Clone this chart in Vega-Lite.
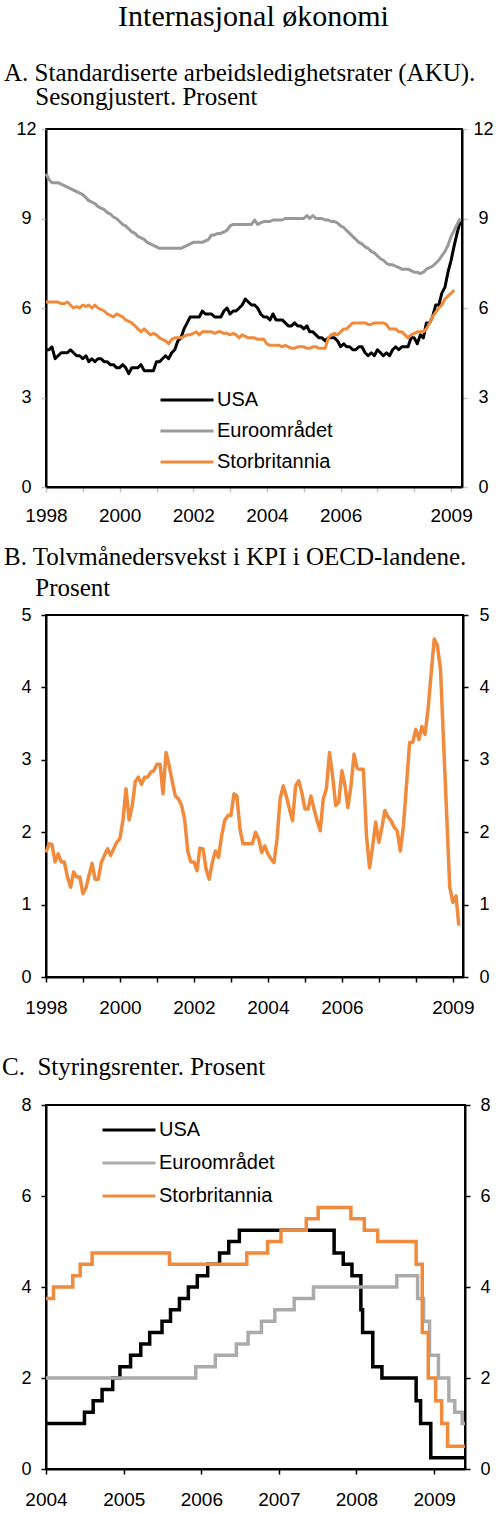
{
  "$schema": "https://vega.github.io/schema/vega-lite/v6.json",
  "background": "white",
  "padding": {"left": 1, "top": 2, "right": 2, "bottom": 2},
  "title": {
    "text": "Internasjonal økonomi",
    "anchor": "middle",
    "font": "Liberation Serif",
    "fontSize": 30,
    "fontWeight": "normal",
    "color": "black",
    "dx": 6,
    "offset": 28
  },
  "config": {
    "font": "Liberation Sans",
    "view": {"stroke": "black", "strokeWidth": 2},
    "axis": {
      "domainColor": "black",
      "domainWidth": 2,
      "tickColor": "black",
      "tickWidth": 1.5,
      "tickSize": 5,
      "grid": false,
      "labelFont": "Liberation Sans",
      "labelFontSize": 18,
      "labelColor": "black",
      "labelFlush": false,
      "labelOverlap": false,
      "labelBound": false
    },
    "axisY": {"labelAlign": "center", "labelBaseline": "middle", "labelPadding": 15},
    "legend": {
      "orient": "none",
      "labelFont": "Liberation Sans",
      "labelFontSize": 20,
      "labelColor": "black",
      "symbolType": "M-5.3,0H5.3",
      "symbolSize": 100,
      "symbolStrokeWidth": 3,
      "padding": 0,
      "labelOffset": 20,
      "rowPadding": 11
    },
    "title": {"font": "Liberation Serif", "fontWeight": "normal", "color": "black"}
  },
  "spacing": 128,
  "bounds": "flush",
  "resolve": {"scale": {"color": "independent"}, "legend": {"color": "independent"}},
  "datasets": {
    "ledighet": [
      {"d":"1998-01","s":"USA","v":4.6},{"d":"1998-02","s":"USA","v":4.6},{"d":"1998-03","s":"USA","v":4.7},{"d":"1998-04","s":"USA","v":4.3},{"d":"1998-05","s":"USA","v":4.4},{"d":"1998-06","s":"USA","v":4.5},{"d":"1998-07","s":"USA","v":4.5},{"d":"1998-08","s":"USA","v":4.5},{"d":"1998-09","s":"USA","v":4.6},{"d":"1998-10","s":"USA","v":4.5},{"d":"1998-11","s":"USA","v":4.4},{"d":"1998-12","s":"USA","v":4.4},
      {"d":"1999-01","s":"USA","v":4.3},{"d":"1999-02","s":"USA","v":4.4},{"d":"1999-03","s":"USA","v":4.2},{"d":"1999-04","s":"USA","v":4.3},{"d":"1999-05","s":"USA","v":4.2},{"d":"1999-06","s":"USA","v":4.3},{"d":"1999-07","s":"USA","v":4.3},{"d":"1999-08","s":"USA","v":4.2},{"d":"1999-09","s":"USA","v":4.2},{"d":"1999-10","s":"USA","v":4.1},{"d":"1999-11","s":"USA","v":4.1},{"d":"1999-12","s":"USA","v":4.0},
      {"d":"2000-01","s":"USA","v":4.0},{"d":"2000-02","s":"USA","v":4.1},{"d":"2000-03","s":"USA","v":4.0},{"d":"2000-04","s":"USA","v":3.8},{"d":"2000-05","s":"USA","v":4.0},{"d":"2000-06","s":"USA","v":4.0},{"d":"2000-07","s":"USA","v":4.0},{"d":"2000-08","s":"USA","v":4.1},{"d":"2000-09","s":"USA","v":3.9},{"d":"2000-10","s":"USA","v":3.9},{"d":"2000-11","s":"USA","v":3.9},{"d":"2000-12","s":"USA","v":3.9},
      {"d":"2001-01","s":"USA","v":4.2},{"d":"2001-02","s":"USA","v":4.2},{"d":"2001-03","s":"USA","v":4.3},{"d":"2001-04","s":"USA","v":4.4},{"d":"2001-05","s":"USA","v":4.3},{"d":"2001-06","s":"USA","v":4.5},{"d":"2001-07","s":"USA","v":4.6},{"d":"2001-08","s":"USA","v":4.9},{"d":"2001-09","s":"USA","v":5.0},{"d":"2001-10","s":"USA","v":5.3},{"d":"2001-11","s":"USA","v":5.5},{"d":"2001-12","s":"USA","v":5.7},
      {"d":"2002-01","s":"USA","v":5.7},{"d":"2002-02","s":"USA","v":5.7},{"d":"2002-03","s":"USA","v":5.7},{"d":"2002-04","s":"USA","v":5.9},{"d":"2002-05","s":"USA","v":5.8},{"d":"2002-06","s":"USA","v":5.8},{"d":"2002-07","s":"USA","v":5.8},{"d":"2002-08","s":"USA","v":5.7},{"d":"2002-09","s":"USA","v":5.7},{"d":"2002-10","s":"USA","v":5.7},{"d":"2002-11","s":"USA","v":5.9},{"d":"2002-12","s":"USA","v":6.0},
      {"d":"2003-01","s":"USA","v":5.8},{"d":"2003-02","s":"USA","v":5.9},{"d":"2003-03","s":"USA","v":5.9},{"d":"2003-04","s":"USA","v":6.0},{"d":"2003-05","s":"USA","v":6.1},{"d":"2003-06","s":"USA","v":6.3},{"d":"2003-07","s":"USA","v":6.2},{"d":"2003-08","s":"USA","v":6.1},{"d":"2003-09","s":"USA","v":6.1},{"d":"2003-10","s":"USA","v":6.0},{"d":"2003-11","s":"USA","v":5.8},{"d":"2003-12","s":"USA","v":5.7},
      {"d":"2004-01","s":"USA","v":5.7},{"d":"2004-02","s":"USA","v":5.6},{"d":"2004-03","s":"USA","v":5.8},{"d":"2004-04","s":"USA","v":5.6},{"d":"2004-05","s":"USA","v":5.6},{"d":"2004-06","s":"USA","v":5.6},{"d":"2004-07","s":"USA","v":5.5},{"d":"2004-08","s":"USA","v":5.4},{"d":"2004-09","s":"USA","v":5.4},{"d":"2004-10","s":"USA","v":5.5},{"d":"2004-11","s":"USA","v":5.4},{"d":"2004-12","s":"USA","v":5.4},
      {"d":"2005-01","s":"USA","v":5.3},{"d":"2005-02","s":"USA","v":5.4},{"d":"2005-03","s":"USA","v":5.2},{"d":"2005-04","s":"USA","v":5.2},{"d":"2005-05","s":"USA","v":5.1},{"d":"2005-06","s":"USA","v":5.0},{"d":"2005-07","s":"USA","v":5.0},{"d":"2005-08","s":"USA","v":4.9},{"d":"2005-09","s":"USA","v":5.0},{"d":"2005-10","s":"USA","v":5.0},{"d":"2005-11","s":"USA","v":5.0},{"d":"2005-12","s":"USA","v":4.9},
      {"d":"2006-01","s":"USA","v":4.7},{"d":"2006-02","s":"USA","v":4.8},{"d":"2006-03","s":"USA","v":4.7},{"d":"2006-04","s":"USA","v":4.7},{"d":"2006-05","s":"USA","v":4.6},{"d":"2006-06","s":"USA","v":4.6},{"d":"2006-07","s":"USA","v":4.7},{"d":"2006-08","s":"USA","v":4.7},{"d":"2006-09","s":"USA","v":4.5},{"d":"2006-10","s":"USA","v":4.4},{"d":"2006-11","s":"USA","v":4.5},{"d":"2006-12","s":"USA","v":4.4},
      {"d":"2007-01","s":"USA","v":4.6},{"d":"2007-02","s":"USA","v":4.5},{"d":"2007-03","s":"USA","v":4.4},{"d":"2007-04","s":"USA","v":4.5},{"d":"2007-05","s":"USA","v":4.4},{"d":"2007-06","s":"USA","v":4.6},{"d":"2007-07","s":"USA","v":4.7},{"d":"2007-08","s":"USA","v":4.6},{"d":"2007-09","s":"USA","v":4.7},{"d":"2007-10","s":"USA","v":4.7},{"d":"2007-11","s":"USA","v":4.7},{"d":"2007-12","s":"USA","v":5.0},
      {"d":"2008-01","s":"USA","v":5.0},{"d":"2008-02","s":"USA","v":4.8},{"d":"2008-03","s":"USA","v":5.1},{"d":"2008-04","s":"USA","v":5.0},{"d":"2008-05","s":"USA","v":5.5},{"d":"2008-06","s":"USA","v":5.5},{"d":"2008-07","s":"USA","v":5.7},{"d":"2008-08","s":"USA","v":6.1},{"d":"2008-09","s":"USA","v":6.1},{"d":"2008-10","s":"USA","v":6.5},{"d":"2008-11","s":"USA","v":6.7},{"d":"2008-12","s":"USA","v":7.2},
      {"d":"2009-01","s":"USA","v":7.6},{"d":"2009-02","s":"USA","v":8.1},{"d":"2009-03","s":"USA","v":8.5},{"d":"2009-04","s":"USA","v":8.9},

      {"d":"1998-01","s":"Euroområdet","v":10.5},{"d":"1998-02","s":"Euroområdet","v":10.3},{"d":"1998-03","s":"Euroområdet","v":10.2},{"d":"1998-04","s":"Euroområdet","v":10.2},{"d":"1998-05","s":"Euroområdet","v":10.2},{"d":"1998-06","s":"Euroområdet","v":10.15},{"d":"1998-07","s":"Euroområdet","v":10.1},{"d":"1998-08","s":"Euroområdet","v":10.05},{"d":"1998-09","s":"Euroområdet","v":10.0},{"d":"1998-10","s":"Euroområdet","v":9.95},{"d":"1998-11","s":"Euroområdet","v":9.9},{"d":"1998-12","s":"Euroområdet","v":9.85},
      {"d":"1999-01","s":"Euroområdet","v":9.8},{"d":"1999-02","s":"Euroområdet","v":9.7},{"d":"1999-03","s":"Euroområdet","v":9.6},{"d":"1999-04","s":"Euroområdet","v":9.55},{"d":"1999-05","s":"Euroområdet","v":9.5},{"d":"1999-06","s":"Euroområdet","v":9.4},{"d":"1999-07","s":"Euroområdet","v":9.35},{"d":"1999-08","s":"Euroområdet","v":9.3},{"d":"1999-09","s":"Euroområdet","v":9.2},{"d":"1999-10","s":"Euroområdet","v":9.15},{"d":"1999-11","s":"Euroområdet","v":9.05},{"d":"1999-12","s":"Euroområdet","v":9.0},
      {"d":"2000-01","s":"Euroområdet","v":8.9},{"d":"2000-02","s":"Euroområdet","v":8.8},{"d":"2000-03","s":"Euroområdet","v":8.75},{"d":"2000-04","s":"Euroområdet","v":8.65},{"d":"2000-05","s":"Euroområdet","v":8.55},{"d":"2000-06","s":"Euroområdet","v":8.5},{"d":"2000-07","s":"Euroområdet","v":8.4},{"d":"2000-08","s":"Euroområdet","v":8.35},{"d":"2000-09","s":"Euroområdet","v":8.3},{"d":"2000-10","s":"Euroområdet","v":8.2},{"d":"2000-11","s":"Euroområdet","v":8.15},{"d":"2000-12","s":"Euroområdet","v":8.1},
      {"d":"2001-01","s":"Euroområdet","v":8.05},{"d":"2001-02","s":"Euroområdet","v":8.0},{"d":"2001-03","s":"Euroområdet","v":8.0},{"d":"2001-04","s":"Euroområdet","v":8.0},{"d":"2001-05","s":"Euroområdet","v":8.0},{"d":"2001-06","s":"Euroområdet","v":8.0},{"d":"2001-07","s":"Euroområdet","v":8.0},{"d":"2001-08","s":"Euroområdet","v":8.0},{"d":"2001-09","s":"Euroområdet","v":8.0},{"d":"2001-10","s":"Euroområdet","v":8.05},{"d":"2001-11","s":"Euroområdet","v":8.1},{"d":"2001-12","s":"Euroområdet","v":8.15},
      {"d":"2002-01","s":"Euroområdet","v":8.2},{"d":"2002-02","s":"Euroområdet","v":8.2},{"d":"2002-03","s":"Euroområdet","v":8.2},{"d":"2002-04","s":"Euroområdet","v":8.2},{"d":"2002-05","s":"Euroområdet","v":8.25},{"d":"2002-06","s":"Euroområdet","v":8.3},{"d":"2002-07","s":"Euroområdet","v":8.45},{"d":"2002-08","s":"Euroområdet","v":8.45},{"d":"2002-09","s":"Euroområdet","v":8.5},{"d":"2002-10","s":"Euroområdet","v":8.5},{"d":"2002-11","s":"Euroområdet","v":8.55},{"d":"2002-12","s":"Euroområdet","v":8.6},
      {"d":"2003-01","s":"Euroområdet","v":8.75},{"d":"2003-02","s":"Euroområdet","v":8.8},{"d":"2003-03","s":"Euroområdet","v":8.8},{"d":"2003-04","s":"Euroområdet","v":8.8},{"d":"2003-05","s":"Euroområdet","v":8.8},{"d":"2003-06","s":"Euroområdet","v":8.8},{"d":"2003-07","s":"Euroområdet","v":8.8},{"d":"2003-08","s":"Euroområdet","v":8.8},{"d":"2003-09","s":"Euroområdet","v":8.95},{"d":"2003-10","s":"Euroområdet","v":8.8},{"d":"2003-11","s":"Euroområdet","v":8.85},{"d":"2003-12","s":"Euroområdet","v":8.9},
      {"d":"2004-01","s":"Euroområdet","v":8.9},{"d":"2004-02","s":"Euroområdet","v":8.9},{"d":"2004-03","s":"Euroområdet","v":8.95},{"d":"2004-04","s":"Euroområdet","v":8.95},{"d":"2004-05","s":"Euroområdet","v":8.95},{"d":"2004-06","s":"Euroområdet","v":8.95},{"d":"2004-07","s":"Euroområdet","v":9.0},{"d":"2004-08","s":"Euroområdet","v":9.0},{"d":"2004-09","s":"Euroområdet","v":9.0},{"d":"2004-10","s":"Euroområdet","v":9.0},{"d":"2004-11","s":"Euroområdet","v":9.0},{"d":"2004-12","s":"Euroområdet","v":9.0},
      {"d":"2005-01","s":"Euroområdet","v":9.0},{"d":"2005-02","s":"Euroområdet","v":9.1},{"d":"2005-03","s":"Euroområdet","v":9.0},{"d":"2005-04","s":"Euroområdet","v":9.1},{"d":"2005-05","s":"Euroområdet","v":9.0},{"d":"2005-06","s":"Euroområdet","v":9.0},{"d":"2005-07","s":"Euroområdet","v":9.0},{"d":"2005-08","s":"Euroområdet","v":8.95},{"d":"2005-09","s":"Euroområdet","v":8.95},{"d":"2005-10","s":"Euroområdet","v":8.9},{"d":"2005-11","s":"Euroområdet","v":8.9},{"d":"2005-12","s":"Euroområdet","v":8.85},
      {"d":"2006-01","s":"Euroområdet","v":8.75},{"d":"2006-02","s":"Euroområdet","v":8.7},{"d":"2006-03","s":"Euroområdet","v":8.6},{"d":"2006-04","s":"Euroområdet","v":8.5},{"d":"2006-05","s":"Euroområdet","v":8.4},{"d":"2006-06","s":"Euroområdet","v":8.3},{"d":"2006-07","s":"Euroområdet","v":8.2},{"d":"2006-08","s":"Euroområdet","v":8.15},{"d":"2006-09","s":"Euroområdet","v":8.05},{"d":"2006-10","s":"Euroområdet","v":8.0},{"d":"2006-11","s":"Euroområdet","v":7.9},{"d":"2006-12","s":"Euroområdet","v":7.85},
      {"d":"2007-01","s":"Euroområdet","v":7.75},{"d":"2007-02","s":"Euroområdet","v":7.65},{"d":"2007-03","s":"Euroområdet","v":7.6},{"d":"2007-04","s":"Euroområdet","v":7.5},{"d":"2007-05","s":"Euroområdet","v":7.45},{"d":"2007-06","s":"Euroområdet","v":7.45},{"d":"2007-07","s":"Euroområdet","v":7.4},{"d":"2007-08","s":"Euroområdet","v":7.35},{"d":"2007-09","s":"Euroområdet","v":7.3},{"d":"2007-10","s":"Euroområdet","v":7.3},{"d":"2007-11","s":"Euroområdet","v":7.3},{"d":"2007-12","s":"Euroområdet","v":7.25},
      {"d":"2008-01","s":"Euroområdet","v":7.2},{"d":"2008-02","s":"Euroområdet","v":7.2},{"d":"2008-03","s":"Euroområdet","v":7.15},{"d":"2008-04","s":"Euroområdet","v":7.2},{"d":"2008-05","s":"Euroområdet","v":7.3},{"d":"2008-06","s":"Euroområdet","v":7.35},{"d":"2008-07","s":"Euroområdet","v":7.4},{"d":"2008-08","s":"Euroområdet","v":7.5},{"d":"2008-09","s":"Euroområdet","v":7.6},{"d":"2008-10","s":"Euroområdet","v":7.75},{"d":"2008-11","s":"Euroområdet","v":7.9},{"d":"2008-12","s":"Euroområdet","v":8.1},
      {"d":"2009-01","s":"Euroområdet","v":8.4},{"d":"2009-02","s":"Euroområdet","v":8.6},{"d":"2009-03","s":"Euroområdet","v":8.8},{"d":"2009-04","s":"Euroområdet","v":9.0},

      {"d":"1998-01","s":"Storbritannia","v":6.2},{"d":"1998-02","s":"Storbritannia","v":6.2},{"d":"1998-03","s":"Storbritannia","v":6.2},{"d":"1998-04","s":"Storbritannia","v":6.2},{"d":"1998-05","s":"Storbritannia","v":6.2},{"d":"1998-06","s":"Storbritannia","v":6.15},{"d":"1998-07","s":"Storbritannia","v":6.15},{"d":"1998-08","s":"Storbritannia","v":6.2},{"d":"1998-09","s":"Storbritannia","v":6.1},{"d":"1998-10","s":"Storbritannia","v":6.0},{"d":"1998-11","s":"Storbritannia","v":6.05},{"d":"1998-12","s":"Storbritannia","v":6.0},
      {"d":"1999-01","s":"Storbritannia","v":6.1},{"d":"1999-02","s":"Storbritannia","v":6.05},{"d":"1999-03","s":"Storbritannia","v":6.1},{"d":"1999-04","s":"Storbritannia","v":6.0},{"d":"1999-05","s":"Storbritannia","v":6.1},{"d":"1999-06","s":"Storbritannia","v":6.0},{"d":"1999-07","s":"Storbritannia","v":5.95},{"d":"1999-08","s":"Storbritannia","v":5.9},{"d":"1999-09","s":"Storbritannia","v":5.8},{"d":"1999-10","s":"Storbritannia","v":5.75},{"d":"1999-11","s":"Storbritannia","v":5.7},{"d":"1999-12","s":"Storbritannia","v":5.8},
      {"d":"2000-01","s":"Storbritannia","v":5.75},{"d":"2000-02","s":"Storbritannia","v":5.7},{"d":"2000-03","s":"Storbritannia","v":5.6},{"d":"2000-04","s":"Storbritannia","v":5.55},{"d":"2000-05","s":"Storbritannia","v":5.5},{"d":"2000-06","s":"Storbritannia","v":5.4},{"d":"2000-07","s":"Storbritannia","v":5.3},{"d":"2000-08","s":"Storbritannia","v":5.2},{"d":"2000-09","s":"Storbritannia","v":5.3},{"d":"2000-10","s":"Storbritannia","v":5.2},{"d":"2000-11","s":"Storbritannia","v":5.1},{"d":"2000-12","s":"Storbritannia","v":5.15},
      {"d":"2001-01","s":"Storbritannia","v":5.1},{"d":"2001-02","s":"Storbritannia","v":5.0},{"d":"2001-03","s":"Storbritannia","v":4.95},{"d":"2001-04","s":"Storbritannia","v":4.9},{"d":"2001-05","s":"Storbritannia","v":4.8},{"d":"2001-06","s":"Storbritannia","v":4.95},{"d":"2001-07","s":"Storbritannia","v":5.0},{"d":"2001-08","s":"Storbritannia","v":5.0},{"d":"2001-09","s":"Storbritannia","v":5.0},{"d":"2001-10","s":"Storbritannia","v":5.05},{"d":"2001-11","s":"Storbritannia","v":5.1},{"d":"2001-12","s":"Storbritannia","v":5.1},
      {"d":"2002-01","s":"Storbritannia","v":5.15},{"d":"2002-02","s":"Storbritannia","v":5.2},{"d":"2002-03","s":"Storbritannia","v":5.1},{"d":"2002-04","s":"Storbritannia","v":5.2},{"d":"2002-05","s":"Storbritannia","v":5.2},{"d":"2002-06","s":"Storbritannia","v":5.2},{"d":"2002-07","s":"Storbritannia","v":5.2},{"d":"2002-08","s":"Storbritannia","v":5.15},{"d":"2002-09","s":"Storbritannia","v":5.2},{"d":"2002-10","s":"Storbritannia","v":5.2},{"d":"2002-11","s":"Storbritannia","v":5.15},{"d":"2002-12","s":"Storbritannia","v":5.15},
      {"d":"2003-01","s":"Storbritannia","v":5.1},{"d":"2003-02","s":"Storbritannia","v":5.15},{"d":"2003-03","s":"Storbritannia","v":5.1},{"d":"2003-04","s":"Storbritannia","v":5.0},{"d":"2003-05","s":"Storbritannia","v":5.1},{"d":"2003-06","s":"Storbritannia","v":5.05},{"d":"2003-07","s":"Storbritannia","v":5.0},{"d":"2003-08","s":"Storbritannia","v":5.0},{"d":"2003-09","s":"Storbritannia","v":5.0},{"d":"2003-10","s":"Storbritannia","v":4.95},{"d":"2003-11","s":"Storbritannia","v":4.95},{"d":"2003-12","s":"Storbritannia","v":4.95},
      {"d":"2004-01","s":"Storbritannia","v":4.8},{"d":"2004-02","s":"Storbritannia","v":4.75},{"d":"2004-03","s":"Storbritannia","v":4.75},{"d":"2004-04","s":"Storbritannia","v":4.75},{"d":"2004-05","s":"Storbritannia","v":4.75},{"d":"2004-06","s":"Storbritannia","v":4.7},{"d":"2004-07","s":"Storbritannia","v":4.75},{"d":"2004-08","s":"Storbritannia","v":4.7},{"d":"2004-09","s":"Storbritannia","v":4.65},{"d":"2004-10","s":"Storbritannia","v":4.65},{"d":"2004-11","s":"Storbritannia","v":4.7},{"d":"2004-12","s":"Storbritannia","v":4.7},
      {"d":"2005-01","s":"Storbritannia","v":4.7},{"d":"2005-02","s":"Storbritannia","v":4.65},{"d":"2005-03","s":"Storbritannia","v":4.65},{"d":"2005-04","s":"Storbritannia","v":4.7},{"d":"2005-05","s":"Storbritannia","v":4.7},{"d":"2005-06","s":"Storbritannia","v":4.65},{"d":"2005-07","s":"Storbritannia","v":4.65},{"d":"2005-08","s":"Storbritannia","v":4.65},{"d":"2005-09","s":"Storbritannia","v":5.0},{"d":"2005-10","s":"Storbritannia","v":5.1},{"d":"2005-11","s":"Storbritannia","v":5.15},{"d":"2005-12","s":"Storbritannia","v":5.1},
      {"d":"2006-01","s":"Storbritannia","v":5.2},{"d":"2006-02","s":"Storbritannia","v":5.3},{"d":"2006-03","s":"Storbritannia","v":5.3},{"d":"2006-04","s":"Storbritannia","v":5.4},{"d":"2006-05","s":"Storbritannia","v":5.5},{"d":"2006-06","s":"Storbritannia","v":5.5},{"d":"2006-07","s":"Storbritannia","v":5.5},{"d":"2006-08","s":"Storbritannia","v":5.5},{"d":"2006-09","s":"Storbritannia","v":5.5},{"d":"2006-10","s":"Storbritannia","v":5.45},{"d":"2006-11","s":"Storbritannia","v":5.45},{"d":"2006-12","s":"Storbritannia","v":5.5},
      {"d":"2007-01","s":"Storbritannia","v":5.5},{"d":"2007-02","s":"Storbritannia","v":5.5},{"d":"2007-03","s":"Storbritannia","v":5.5},{"d":"2007-04","s":"Storbritannia","v":5.45},{"d":"2007-05","s":"Storbritannia","v":5.3},{"d":"2007-06","s":"Storbritannia","v":5.3},{"d":"2007-07","s":"Storbritannia","v":5.3},{"d":"2007-08","s":"Storbritannia","v":5.2},{"d":"2007-09","s":"Storbritannia","v":5.2},{"d":"2007-10","s":"Storbritannia","v":5.1},{"d":"2007-11","s":"Storbritannia","v":5.0},{"d":"2007-12","s":"Storbritannia","v":5.1},
      {"d":"2008-01","s":"Storbritannia","v":5.15},{"d":"2008-02","s":"Storbritannia","v":5.2},{"d":"2008-03","s":"Storbritannia","v":5.2},{"d":"2008-04","s":"Storbritannia","v":5.2},{"d":"2008-05","s":"Storbritannia","v":5.3},{"d":"2008-06","s":"Storbritannia","v":5.5},{"d":"2008-07","s":"Storbritannia","v":5.7},{"d":"2008-08","s":"Storbritannia","v":5.85},{"d":"2008-09","s":"Storbritannia","v":6.0},{"d":"2008-10","s":"Storbritannia","v":6.1},{"d":"2008-11","s":"Storbritannia","v":6.3},{"d":"2008-12","s":"Storbritannia","v":6.4},
      {"d":"2009-01","s":"Storbritannia","v":6.5},{"d":"2009-02","s":"Storbritannia","v":6.6}
    ],
    "kpi": [
      {"d":"1998-01","v":1.72},{"d":"1998-02","v":1.84},{"d":"1998-03","v":1.83},{"d":"1998-04","v":1.59},{"d":"1998-05","v":1.70},{"d":"1998-06","v":1.59},{"d":"1998-07","v":1.59},{"d":"1998-08","v":1.38},{"d":"1998-09","v":1.24},{"d":"1998-10","v":1.45},{"d":"1998-11","v":1.38},{"d":"1998-12","v":1.38},
      {"d":"1999-01","v":1.15},{"d":"1999-02","v":1.24},{"d":"1999-03","v":1.40},{"d":"1999-04","v":1.57},{"d":"1999-05","v":1.35},{"d":"1999-06","v":1.35},{"d":"1999-07","v":1.58},{"d":"1999-08","v":1.68},{"d":"1999-09","v":1.77},{"d":"1999-10","v":1.68},{"d":"1999-11","v":1.77},{"d":"1999-12","v":1.86},
      {"d":"2000-01","v":1.91},{"d":"2000-02","v":2.18},{"d":"2000-03","v":2.60},{"d":"2000-04","v":2.17},{"d":"2000-05","v":2.36},{"d":"2000-06","v":2.70},{"d":"2000-07","v":2.76},{"d":"2000-08","v":2.66},{"d":"2000-09","v":2.76},{"d":"2000-10","v":2.76},{"d":"2000-11","v":2.83},{"d":"2000-12","v":2.85},
      {"d":"2001-01","v":2.94},{"d":"2001-02","v":2.94},{"d":"2001-03","v":2.53},{"d":"2001-04","v":3.10},{"d":"2001-05","v":2.92},{"d":"2001-06","v":2.70},{"d":"2001-07","v":2.50},{"d":"2001-08","v":2.46},{"d":"2001-09","v":2.37},{"d":"2001-10","v":2.18},{"d":"2001-11","v":1.74},{"d":"2001-12","v":1.59},
      {"d":"2002-01","v":1.59},{"d":"2002-02","v":1.47},{"d":"2002-03","v":1.78},{"d":"2002-04","v":1.77},{"d":"2002-05","v":1.49},{"d":"2002-06","v":1.35},{"d":"2002-07","v":1.58},{"d":"2002-08","v":1.74},{"d":"2002-09","v":1.65},{"d":"2002-10","v":1.95},{"d":"2002-11","v":2.16},{"d":"2002-12","v":2.23},
      {"d":"2003-01","v":2.23},{"d":"2003-02","v":2.53},{"d":"2003-03","v":2.50},{"d":"2003-04","v":2.04},{"d":"2003-05","v":1.84},{"d":"2003-06","v":1.84},{"d":"2003-07","v":1.84},{"d":"2003-08","v":1.84},{"d":"2003-09","v":2.00},{"d":"2003-10","v":1.91},{"d":"2003-11","v":1.72},{"d":"2003-12","v":1.81},
      {"d":"2004-01","v":1.70},{"d":"2004-02","v":1.63},{"d":"2004-03","v":1.58},{"d":"2004-04","v":1.91},{"d":"2004-05","v":2.46},{"d":"2004-06","v":2.64},{"d":"2004-07","v":2.50},{"d":"2004-08","v":2.32},{"d":"2004-09","v":2.16},{"d":"2004-10","v":2.64},{"d":"2004-11","v":2.71},{"d":"2004-12","v":2.55},
      {"d":"2005-01","v":2.32},{"d":"2005-02","v":2.32},{"d":"2005-03","v":2.50},{"d":"2005-04","v":2.32},{"d":"2005-05","v":2.16},{"d":"2005-06","v":2.02},{"d":"2005-07","v":2.46},{"d":"2005-08","v":2.60},{"d":"2005-09","v":3.10},{"d":"2005-10","v":2.78},{"d":"2005-11","v":2.37},{"d":"2005-12","v":2.41},
      {"d":"2006-01","v":2.85},{"d":"2006-02","v":2.64},{"d":"2006-03","v":2.34},{"d":"2006-04","v":2.64},{"d":"2006-05","v":3.08},{"d":"2006-06","v":2.88},{"d":"2006-07","v":2.87},{"d":"2006-08","v":2.87},{"d":"2006-09","v":1.95},{"d":"2006-10","v":1.51},{"d":"2006-11","v":1.81},{"d":"2006-12","v":2.14},
      {"d":"2007-01","v":1.86},{"d":"2007-02","v":2.07},{"d":"2007-03","v":2.30},{"d":"2007-04","v":2.21},{"d":"2007-05","v":2.16},{"d":"2007-06","v":2.07},{"d":"2007-07","v":2.02},{"d":"2007-08","v":1.74},{"d":"2007-09","v":2.09},{"d":"2007-10","v":2.65},{"d":"2007-11","v":3.24},{"d":"2007-12","v":3.24},
      {"d":"2008-01","v":3.42},{"d":"2008-02","v":3.28},{"d":"2008-03","v":3.46},{"d":"2008-04","v":3.35},{"d":"2008-05","v":3.70},{"d":"2008-06","v":4.20},{"d":"2008-07","v":4.67},{"d":"2008-08","v":4.58},{"d":"2008-09","v":4.25},{"d":"2008-10","v":3.25},{"d":"2008-11","v":2.24},{"d":"2008-12","v":1.24},
      {"d":"2009-01","v":1.03},{"d":"2009-02","v":1.12},{"d":"2009-03","v":0.71}
    ],
    "renter": [
      {"d":"2004-01-01","s":"USA","v":1.0},{"d":"2004-06-30","s":"USA","v":1.25},{"d":"2004-08-10","s":"USA","v":1.5},{"d":"2004-09-21","s":"USA","v":1.75},{"d":"2004-11-10","s":"USA","v":2.0},{"d":"2004-12-14","s":"USA","v":2.25},
      {"d":"2005-02-02","s":"USA","v":2.5},{"d":"2005-03-22","s":"USA","v":2.75},{"d":"2005-05-03","s":"USA","v":3.0},{"d":"2005-06-30","s":"USA","v":3.25},{"d":"2005-08-09","s":"USA","v":3.5},{"d":"2005-09-20","s":"USA","v":3.75},{"d":"2005-11-01","s":"USA","v":4.0},{"d":"2005-12-13","s":"USA","v":4.25},
      {"d":"2006-01-31","s":"USA","v":4.5},{"d":"2006-03-28","s":"USA","v":4.75},{"d":"2006-05-10","s":"USA","v":5.0},{"d":"2006-06-29","s":"USA","v":5.25},
      {"d":"2007-09-18","s":"USA","v":4.75},{"d":"2007-10-31","s":"USA","v":4.5},{"d":"2007-12-11","s":"USA","v":4.25},
      {"d":"2008-01-22","s":"USA","v":3.5},{"d":"2008-01-30","s":"USA","v":3.0},{"d":"2008-03-18","s":"USA","v":2.25},{"d":"2008-04-30","s":"USA","v":2.0},{"d":"2008-10-08","s":"USA","v":1.5},{"d":"2008-10-29","s":"USA","v":1.0},{"d":"2008-12-16","s":"USA","v":0.25},{"d":"2009-05-26","s":"USA","v":0.25},

      {"d":"2004-01-01","s":"Euroområdet","v":2.0},{"d":"2005-12-06","s":"Euroområdet","v":2.25},{"d":"2006-03-08","s":"Euroområdet","v":2.5},{"d":"2006-06-15","s":"Euroområdet","v":2.75},{"d":"2006-08-09","s":"Euroområdet","v":3.0},{"d":"2006-10-11","s":"Euroområdet","v":3.25},{"d":"2006-12-13","s":"Euroområdet","v":3.5},
      {"d":"2007-03-14","s":"Euroområdet","v":3.75},{"d":"2007-06-13","s":"Euroområdet","v":4.0},{"d":"2008-07-09","s":"Euroområdet","v":4.25},{"d":"2008-10-15","s":"Euroområdet","v":3.75},{"d":"2008-11-12","s":"Euroområdet","v":3.25},{"d":"2008-12-10","s":"Euroområdet","v":2.5},
      {"d":"2009-01-21","s":"Euroområdet","v":2.0},{"d":"2009-03-11","s":"Euroområdet","v":1.5},{"d":"2009-04-08","s":"Euroområdet","v":1.25},{"d":"2009-05-13","s":"Euroområdet","v":1.0},{"d":"2009-05-26","s":"Euroområdet","v":1.0},

      {"d":"2004-01-01","s":"Storbritannia","v":3.75},{"d":"2004-02-05","s":"Storbritannia","v":4.0},{"d":"2004-05-06","s":"Storbritannia","v":4.25},{"d":"2004-06-10","s":"Storbritannia","v":4.5},{"d":"2004-08-05","s":"Storbritannia","v":4.75},
      {"d":"2005-08-04","s":"Storbritannia","v":4.5},{"d":"2006-08-03","s":"Storbritannia","v":4.75},{"d":"2006-11-09","s":"Storbritannia","v":5.0},{"d":"2007-01-11","s":"Storbritannia","v":5.25},{"d":"2007-05-10","s":"Storbritannia","v":5.5},{"d":"2007-07-05","s":"Storbritannia","v":5.75},{"d":"2007-12-06","s":"Storbritannia","v":5.5},
      {"d":"2008-02-07","s":"Storbritannia","v":5.25},{"d":"2008-04-10","s":"Storbritannia","v":5.0},{"d":"2008-10-08","s":"Storbritannia","v":4.5},{"d":"2008-11-06","s":"Storbritannia","v":3.0},{"d":"2008-12-04","s":"Storbritannia","v":2.0},
      {"d":"2009-01-08","s":"Storbritannia","v":1.5},{"d":"2009-02-05","s":"Storbritannia","v":1.0},{"d":"2009-03-05","s":"Storbritannia","v":0.5},{"d":"2009-05-26","s":"Storbritannia","v":0.5}
    ]
  },
  "vconcat": [
    {
      "width": 416,
      "height": 358,
      "title": {
        "text": ["A. Standardiserte arbeidsledighetsrater (AKU).", "\u200b\u00a0\u00a0\u00a0\u00a0\u00a0Sesongjustert. Prosent"],
        "anchor": "start",
        "frame": "group",
        "dx": -42,
        "fontSize": 25,
        "lineHeight": 24,
        "offset": 10
      },
      "data": {"name": "ledighet"},
      "encoding": {
        "x": {
          "field": "d",
          "type": "temporal",
          "scale": {"type": "utc", "domain": [{"year": 1998, "month": 1, "date": 1, "utc": true}, {"year": 2009, "month": 4, "date": 19, "utc": true}]},
          "axis": {
            "title": null,
            "values": [{"year":1998,"utc":true},{"year":1999,"utc":true},{"year":2000,"utc":true},{"year":2001,"utc":true},{"year":2002,"utc":true},{"year":2003,"utc":true},{"year":2004,"utc":true},{"year":2005,"utc":true},{"year":2006,"utc":true},{"year":2007,"utc":true},{"year":2008,"utc":true},{"year":2009,"utc":true}],
            "labelExpr": "indexof([1998, 2000, 2002, 2004, 2006, 2009], utcyear(datum.value)) >= 0 ? utcFormat(datum.value, '%Y') : ''",
            "labelFontSize": 19,
            "labelPadding": 14,
            "tickColor": "#c4c4c4"
          }
        }
      },
      "layer": [
        {
          "mark": {"type": "line", "strokeWidth": 3, "strokeJoin": "round"},
          "encoding": {
            "y": {
              "field": "v",
              "type": "quantitative",
              "scale": {"domain": [0, 12]},
              "axis": {"title": null, "orient": "left", "values": [0, 3, 6, 9, 12], "tickColor": "#c4c4c4"}
            },
            "color": {
              "field": "s",
              "type": "nominal",
              "scale": {"domain": ["USA", "Euroområdet", "Storbritannia"], "range": ["#000000", "#999999", "#F08A3C"]},
              "legend": {"title": null, "legendX": 131, "legendY": 261, "rowPadding": 11}
            }
          }
        },
        {
          "mark": {"type": "line", "strokeOpacity": 0},
          "encoding": {
            "y": {
              "field": "v",
              "type": "quantitative",
              "scale": {"domain": [0, 12]},
              "axis": {"title": null, "orient": "right", "values": [0, 3, 6, 9, 12], "labelPadding": 16, "tickColor": "#c4c4c4"}
            }
          }
        }
      ],
      "resolve": {"axis": {"y": "independent"}}
    },
    {
      "width": 417,
      "height": 362,
      "title": {
        "text": ["B. Tolvmånedersvekst i KPI i OECD-landene.", "\u200b\u00a0\u00a0\u00a0\u00a0\u00a0Prosent"],
        "anchor": "start",
        "frame": "group",
        "dx": -42,
        "fontSize": 25,
        "lineHeight": 31,
        "offset": 5
      },
      "data": {"name": "kpi"},
      "encoding": {
        "x": {
          "field": "d",
          "type": "temporal",
          "scale": {"type": "utc", "domain": [{"year": 1998, "month": 1, "date": 1, "utc": true}, {"year": 2009, "month": 4, "date": 11, "utc": true}]},
          "axis": {
            "title": null,
            "values": [{"year":1998,"utc":true},{"year":1999,"utc":true},{"year":2000,"utc":true},{"year":2001,"utc":true},{"year":2002,"utc":true},{"year":2003,"utc":true},{"year":2004,"utc":true},{"year":2005,"utc":true},{"year":2006,"utc":true},{"year":2007,"utc":true},{"year":2008,"utc":true},{"year":2009,"utc":true}],
            "labelExpr": "indexof([1998, 2000, 2002, 2004, 2006, 2009], utcyear(datum.value)) >= 0 ? utcFormat(datum.value, '%Y') : ''",
            "labelFontSize": 19,
            "labelPadding": 16
          }
        }
      },
      "layer": [
        {
          "mark": {"type": "line", "strokeWidth": 3.5, "strokeJoin": "round", "color": "#F08A3C"},
          "encoding": {
            "y": {
              "field": "v",
              "type": "quantitative",
              "scale": {"domain": [0, 5]},
              "axis": {"title": null, "orient": "left", "values": [0, 1, 2, 3, 4, 5]}
            }
          }
        },
        {
          "mark": {"type": "line", "strokeOpacity": 0},
          "encoding": {
            "y": {
              "field": "v",
              "type": "quantitative",
              "scale": {"domain": [0, 5]},
              "axis": {"title": null, "orient": "right", "values": [0, 1, 2, 3, 4, 5], "labelPadding": 16}
            }
          }
        }
      ],
      "resolve": {"axis": {"y": "independent"}}
    },
    {
      "width": 419,
      "height": 364,
      "title": {
        "text": "C.\u00a0 Styringsrenter. Prosent",
        "anchor": "start",
        "frame": "group",
        "dx": -44,
        "fontSize": 25,
        "offset": 16
      },
      "data": {"name": "renter"},
      "encoding": {
        "x": {
          "field": "d",
          "type": "temporal",
          "scale": {"type": "utc", "domain": [{"year": 2004, "month": 1, "date": 1, "utc": true}, {"year": 2009, "month": 5, "date": 26, "utc": true}]},
          "axis": {
            "title": null,
            "values": [{"year":2004,"utc":true},{"year":2005,"utc":true},{"year":2006,"utc":true},{"year":2007,"utc":true},{"year":2008,"utc":true},{"year":2009,"utc":true}],
            "labelExpr": "utcFormat(datum.value, '%Y')",
            "labelFontSize": 19,
            "labelPadding": 16
          }
        }
      },
      "layer": [
        {
          "mark": {"type": "line", "strokeWidth": 3.5, "interpolate": "step-after"},
          "encoding": {
            "y": {
              "field": "v",
              "type": "quantitative",
              "scale": {"domain": [0, 8]},
              "axis": {"title": null, "orient": "left", "values": [0, 2, 4, 6, 8]}
            },
            "color": {
              "field": "s",
              "type": "nominal",
              "scale": {"domain": ["USA", "Euroområdet", "Storbritannia"], "range": ["#000000", "#ABABAB", "#F08A3C"]},
              "legend": {"title": null, "legendX": 73, "legendY": 15, "rowPadding": 13}
            }
          }
        },
        {
          "mark": {"type": "line", "strokeOpacity": 0},
          "encoding": {
            "y": {
              "field": "v",
              "type": "quantitative",
              "scale": {"domain": [0, 8]},
              "axis": {"title": null, "orient": "right", "values": [0, 2, 4, 6, 8], "labelPadding": 15}
            }
          }
        }
      ],
      "resolve": {"axis": {"y": "independent"}}
    }
  ]
}
